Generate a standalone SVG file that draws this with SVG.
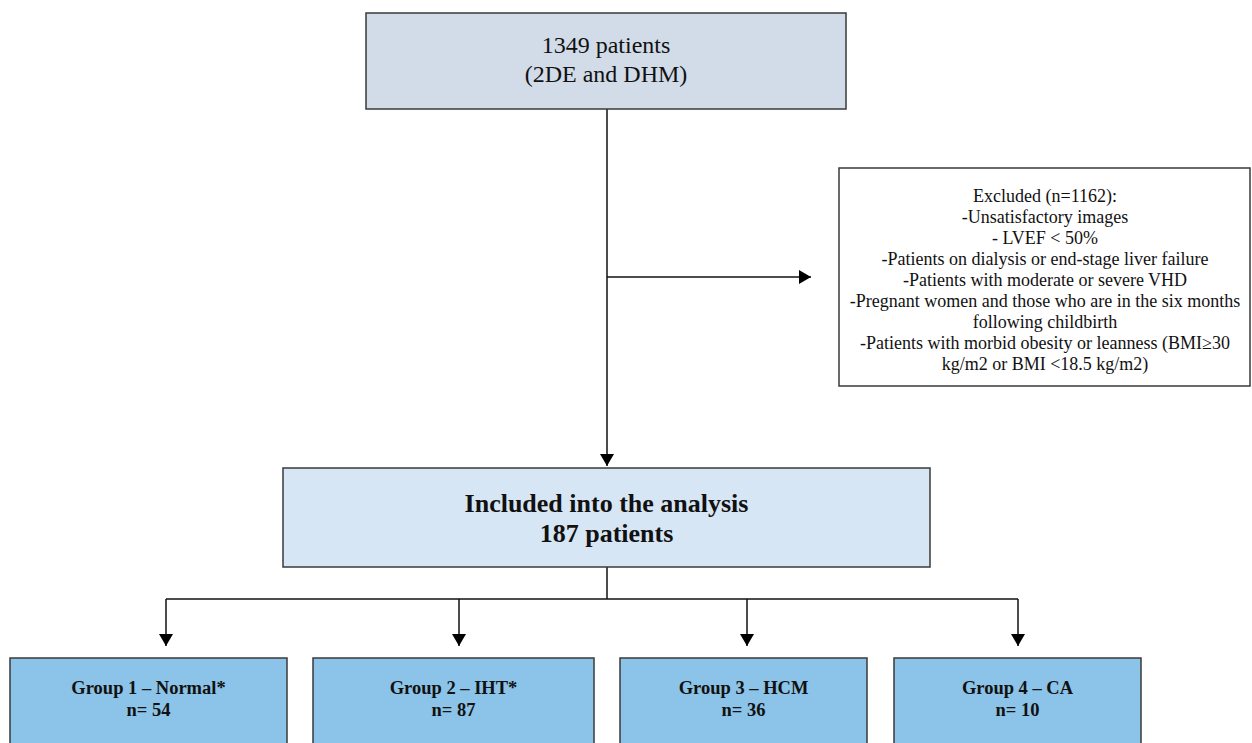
<svg xmlns="http://www.w3.org/2000/svg" width="1252" height="743" viewBox="0 0 1252 743">
<style>
.box{stroke:#3a3a3a;stroke-width:1.5}
.top{fill:#d1dce8}
.inc{fill:#d7e6f4}
.grp{fill:#8cc3e8}
.exc{fill:#ffffff}
.t{font-family:"Liberation Serif","Times New Roman",serif;fill:#111;text-anchor:middle}
.big{font-size:24px}
.bold{font-weight:bold}
.mid{font-size:26px}
.g{font-size:18.5px}
.e{font-size:18px}
.ln{stroke:#111;stroke-width:1.5;fill:none}
</style>
<defs>
<marker id="ah" viewBox="0 0 12 14" refX="12" refY="7" markerWidth="12" markerHeight="14" markerUnits="userSpaceOnUse" orient="auto">
<path d="M0,0 L12,7 L0,14 Z" fill="#000"/>
</marker>
</defs>
<rect width="1252" height="743" fill="#fff"/>
<g id="connectors">
<line class="ln" x1="607" y1="109" x2="607" y2="466" marker-end="url(#ah)"/>
<line class="ln" x1="607" y1="277" x2="811" y2="277" marker-end="url(#ah)"/>
<line class="ln" x1="607" y1="567" x2="607" y2="599"/>
<line class="ln" x1="166" y1="599" x2="1018" y2="599"/>
<line class="ln" x1="166" y1="599" x2="166" y2="646" marker-end="url(#ah)"/>
<line class="ln" x1="459" y1="599" x2="459" y2="646" marker-end="url(#ah)"/>
<line class="ln" x1="747" y1="599" x2="747" y2="646" marker-end="url(#ah)"/>
<line class="ln" x1="1018" y1="599" x2="1018" y2="646" marker-end="url(#ah)"/>
</g>
<g id="node-total">
<rect class="box top" x="366" y="13" width="480" height="96"/>
<text class="t big" x="606" y="53">1349 patients</text>
<text class="t big" x="606" y="82">(2DE and DHM)</text>
</g>
<g id="node-excluded">
<rect class="box exc" x="839" y="168" width="411" height="218"/>
<text class="t e" x="1045" y="202">Excluded (n=1162):</text>
<text class="t e" x="1045" y="223">-Unsatisfactory images</text>
<text class="t e" x="1045" y="244">- LVEF &lt; 50%</text>
<text class="t e" x="1045" y="265">-Patients on dialysis or end-stage liver failure</text>
<text class="t e" x="1045" y="286">-Patients with moderate or severe VHD</text>
<text class="t e" x="1045" y="307">-Pregnant women and those who are in the six months</text>
<text class="t e" x="1045" y="328">following childbirth</text>
<text class="t e" x="1045" y="349">-Patients with morbid obesity or leanness (BMI≥30</text>
<text class="t e" x="1045" y="370">kg/m2 or BMI &lt;18.5 kg/m2)</text>
</g>
<g id="node-included">
<rect class="box inc" x="283" y="468" width="647" height="99"/>
<text class="t mid bold" x="606.5" y="512">Included into the analysis</text>
<text class="t mid bold" x="606.5" y="542">187 patients</text>
</g>
<g id="node-group1">
<rect class="box grp" x="10" y="658" width="277" height="90"/>
<text class="t g bold" x="148.5" y="694">Group 1 – Normal*</text>
<text class="t g bold" x="148.5" y="716">n= 54</text>
</g>
<g id="node-group2">
<rect class="box grp" x="313" y="658" width="281" height="90"/>
<text class="t g bold" x="453.5" y="694">Group 2 – IHT*</text>
<text class="t g bold" x="453.5" y="716">n= 87</text>
</g>
<g id="node-group3">
<rect class="box grp" x="620" y="658" width="247" height="90"/>
<text class="t g bold" x="743.5" y="694">Group 3 – HCM</text>
<text class="t g bold" x="743.5" y="716">n= 36</text>
</g>
<g id="node-group4">
<rect class="box grp" x="894" y="658" width="247" height="90"/>
<text class="t g bold" x="1017.5" y="694">Group 4 – CA</text>
<text class="t g bold" x="1017.5" y="716">n= 10</text>
</g>
</svg>
